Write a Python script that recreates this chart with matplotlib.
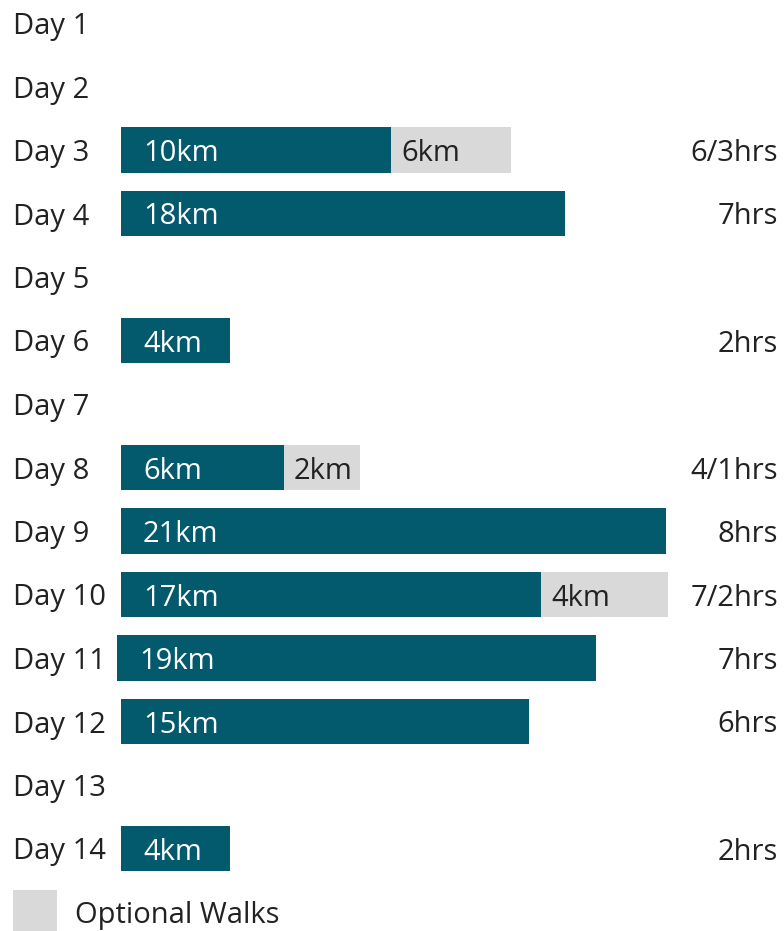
import matplotlib.pyplot as plt

plt.rcParams['font.family'] = ['Open Sans', 'DejaVu Sans']

days = ['Day %d' % i for i in range(1, 15)]
# km labels as printed
main_km = ['', '', '10km', '18km', '', '4km', '', '6km', '21km', '17km', '19km', '15km', '', '4km']
opt_km = ['', '', '6km', '', '', '', '', '2km', '', '4km', '', '', '', '']
hours = ['', '', '6/3hrs', '7hrs', '', '2hrs', '', '4/1hrs', '8hrs', '7/2hrs', '7hrs', '6hrs', '', '2hrs']
# bar lengths as drawn in the picture (not strictly to scale with the labels)
main_len = [0, 0, 10.0, 16.44, 0, 4.04, 0, 6.04, 20.19, 15.56, 17.74, 15.11, 0, 4.04]
main_start = [0, 0, 0, 0, 0, 0, 0, 0, 0, 0, -0.15, 0, 0, 0]
opt_len = [0, 0, 4.44, 0, 0, 0, 0, 2.81, 0, 4.70, 0, 0, 0, 0]

teal = '#025a6c'
grey = '#d9d9d9'
ink = '#222222'
fs = 21

W, H = 784, 931
fig = plt.figure(figsize=(W / 100, H / 100), dpi=100)
ax = fig.add_axes([0, 0, 1, 1])
ppu = 27.0      # pixels per length unit
x0 = 121        # bar origin in pixels
row = 63.5
y0 = 23
ax.set_xlim(-x0 / ppu, (W - x0) / ppu)
ax.set_ylim((H - y0) / row, -y0 / row)
ax.axis('off')

rows = list(range(len(days)))
ax.barh(rows, main_len, left=main_start, height=0.72, color=teal)
opt_left = [s + m for s, m in zip(main_start, main_len)]
ax.barh(rows, opt_len, left=opt_left, height=0.72, color=grey)

for i in rows:
    ax.text(13 / W, 1 - (y0 + row * i) / H, days[i], transform=ax.transAxes,
            ha='left', va='center_baseline', fontsize=fs, color=ink)
    if main_km[i]:
        ax.text(main_start[i] + 22 / ppu, i, main_km[i], ha='left', va='center_baseline',
                fontsize=fs, color='white')
    if opt_km[i]:
        ax.text(opt_left[i] + 10 / ppu, i, opt_km[i], ha='left', va='center_baseline',
                fontsize=fs, color=ink)
    if hours[i]:
        ax.text(778 / W, 1 - (y0 + row * i) / H, hours[i], transform=ax.transAxes,
                ha='right', va='center_baseline', fontsize=fs, color=ink)

# legend
leg_row = len(days)
ax.barh([leg_row], [44 / ppu], left=(13 - x0) / ppu, height=44 / row, color=grey)
ax.text((75 - x0) / ppu, leg_row, 'Optional Walks', ha='left', va='center_baseline',
        fontsize=fs, color=ink)

fig.savefig('out.png', dpi=100)
